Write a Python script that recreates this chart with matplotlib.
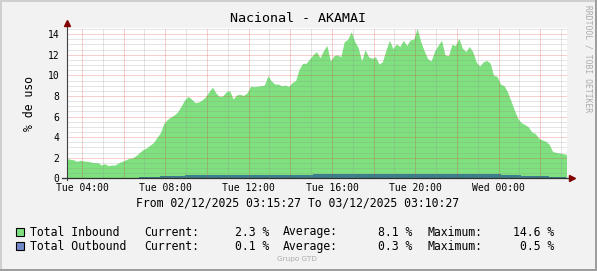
import matplotlib
matplotlib.use("Agg")
import matplotlib.pyplot as plt
from matplotlib.ticker import MultipleLocator, FuncFormatter
from matplotlib.patches import Rectangle
import numpy as np

plt.rcParams["font.family"] = "DejaVu Sans Mono"

# valores (muestras cada 10 min desde 02/12 03:15:27)
inbound = [
    1.94, 1.85, 1.80, 1.65, 1.75, 1.68, 1.65, 1.58, 1.52, 1.52,
    1.29, 1.42, 1.23, 1.29, 1.29, 1.50, 1.65, 1.78, 1.94, 1.98,
    2.20, 2.50, 2.77, 2.95, 3.20, 3.45, 3.95, 4.40, 5.30, 5.70,
    5.95, 6.15, 6.45, 7.00, 7.60, 7.96, 7.70, 7.35, 7.40, 7.60,
    7.90, 8.40, 8.85, 8.30, 7.95, 8.00, 8.40, 8.50, 7.70, 8.10,
    8.15, 8.05, 8.30, 8.95, 8.90, 8.95, 9.00, 9.06, 9.97, 9.45,
    9.15, 9.15, 8.98, 9.05, 8.92, 9.30, 9.50, 10.60, 11.17, 11.17,
    11.60, 12.00, 12.30, 11.70, 12.40, 12.90, 11.40, 11.90, 12.00, 11.80,
    13.27, 13.50, 14.24, 13.30, 12.70, 11.40, 12.50, 11.80, 11.65, 11.80,
    11.10, 11.33, 12.46, 13.40, 12.60, 13.05, 12.80, 13.40, 12.90, 13.45,
    13.50, 14.56, 13.30, 12.40, 11.62, 11.40, 12.35, 12.90, 13.40, 12.00,
    11.90, 13.00, 12.90, 13.60, 12.65, 12.30, 12.80, 12.30, 11.30, 10.90,
    11.30, 11.45, 11.20, 10.00, 9.90, 9.15, 9.00, 8.40, 7.50, 6.60,
    5.80, 5.40, 5.22, 5.00, 4.50, 4.35, 3.90, 3.72, 3.60, 3.30,
    2.60, 2.52, 2.45, 2.40, 2.30,
]
outbound = [
    0, 0, 0, 0, 0, 0, 0, 0, 0, 0,
    0, 0, 0, 0, 0, 0, 0, 0, 0, 0,
    0, 0.12, 0.12, 0.12, 0.12, 0.12, 0.12, 0.22, 0.22, 0.22,
    0.22, 0.22, 0.22, 0.22, 0.32, 0.32, 0.32, 0.32, 0.32, 0.32,
    0.32, 0.32, 0.32, 0.32, 0.32, 0.32, 0.32, 0.32, 0.32, 0.32,
    0.32, 0.32, 0.32, 0.32, 0.32, 0.32, 0.32, 0.32, 0.32, 0.32,
    0.32, 0.32, 0.32, 0.32, 0.32, 0.32, 0.32, 0.32, 0.32, 0.32,
    0.32, 0.42, 0.42, 0.42, 0.42, 0.42, 0.40, 0.42, 0.42, 0.42,
    0.42, 0.42, 0.42, 0.42, 0.40, 0.42, 0.42, 0.42, 0.38, 0.42,
    0.42, 0.42, 0.42, 0.42, 0.40, 0.42, 0.42, 0.42, 0.42, 0.42,
    0.42, 0.42, 0.42, 0.38, 0.42, 0.42, 0.42, 0.42, 0.42, 0.42,
    0.42, 0.42, 0.42, 0.42, 0.40, 0.40, 0.40, 0.40, 0.40, 0.40,
    0.40, 0.40, 0.40, 0.40, 0.40, 0.30, 0.30, 0.30, 0.30, 0.30,
    0.30, 0.18, 0.18, 0.18, 0.18, 0.18, 0.18, 0.18, 0.18, 0.08,
    0.08, 0.08, 0.08, 0.08, 0.08,
]
series_names = ["Total Inbound", "Total Outbound"]
current = [2.3, 0.1]
average = [8.1, 0.3]
maximum = [14.6, 0.5]

START = 3 + 15 / 60 + 27 / 3600  # hora de inicio
STEP = 10 / 60

GREEN = "#7EE07E"
TEAL = "#3B7F8A"
BLUE = "#7289C9"

W, H = 597, 271
fig = plt.figure(figsize=(W / 100, H / 100), dpi=100, facecolor="#F2F2F2")

# marco 3D estilo rrdtool
fig.add_artist(Rectangle((0, 1 - 2 / H), 1, 2 / H, transform=fig.transFigure, color="#CFCFCF", lw=0))
fig.add_artist(Rectangle((0, 0), 2 / W, 1, transform=fig.transFigure, color="#CFCFCF", lw=0))
fig.add_artist(Rectangle((0, 0), 1, 2 / H, transform=fig.transFigure, color="#9E9E9E", lw=0))
fig.add_artist(Rectangle((1 - 2 / W, 0), 2 / W, 1, transform=fig.transFigure, color="#9E9E9E", lw=0))

ax = fig.add_axes([66.5 / W, 1 - 178.3 / H, 500 / W, (178.3 - 28) / H])
ax.set_facecolor("white")

times = START + np.arange(len(inbound)) * STEP
ax.fill_between(times, inbound, color=GREEN, lw=0, zorder=1)
ax.fill_between(times, outbound, color=TEAL, lw=0, step="post", zorder=1.5)

ax.set_xlim(START, START + 24)
ax.set_ylim(0, 14.6)


def hour_label(v, pos):
    if round(v) % 4 != 0:
        return ""
    day = "Tue" if v < 24 else "Wed"
    return f"{day} {int(round(v)) % 24:02d}:00"


ax.xaxis.set_major_locator(MultipleLocator(2))
ax.xaxis.set_minor_locator(MultipleLocator(1))
ax.xaxis.set_major_formatter(FuncFormatter(hour_label))
ax.yaxis.set_major_locator(MultipleLocator(2))
ax.yaxis.set_minor_locator(MultipleLocator(0.5))
ax.yaxis.set_major_formatter(FuncFormatter(lambda v, p: f"{v:.0f}"))

ax.set_axisbelow(False)
ax.grid(which="major", color="#DE3030", alpha=0.45, lw=0.72, ls=(0, (1, 1)))
ax.grid(which="minor", color="#8F8F8F", alpha=0.45, lw=0.72, ls=(0, (1, 1)))
ax.tick_params(which="both", length=0, labelsize=7)
ax.tick_params(axis="y", pad=5.2)
ax.tick_params(axis="x", pad=3.5)
for s in ax.spines.values():
    s.set_visible(False)

# ejes con flechas
ax.plot([0, 0], [-0.01, 1.035], transform=ax.transAxes, color="#404040", lw=0.8, clip_on=False, zorder=4)
ax.plot([-0.01, 1.01], [0, 0], transform=ax.transAxes, color="#303030", lw=0.9, clip_on=False, zorder=4)
ax.plot(0, 1.035, marker="^", ms=4, color="#800000", transform=ax.transAxes, clip_on=False, zorder=5)
ax.plot(1.011, 0, marker=">", ms=4, color="#800000", transform=ax.transAxes, clip_on=False, zorder=5)

ax.set_ylabel("% de uso", fontsize=8.3, labelpad=8)

fig.text(298 / W, 1 - 19 / H, "Nacional - AKAMAI", fontsize=9.6, ha="center", va="center")
fig.text(298 / W, 1 - 203.5 / H, "From 02/12/2025 03:15:27 To 03/12/2025 03:10:27",
         fontsize=8.3, ha="center", va="center")
fig.text(588 / W, 1 - 59 / H, "RRDTOOL / TOBI OETIKER", fontsize=5.8, rotation=270,
         ha="center", va="center", color="#ABABAB")
fig.text(297 / W, 1 - 259.5 / H, "Grupo GTD", fontsize=5.2, family="DejaVu Sans",
         ha="center", va="center", color="#ABABAB")

# leyenda
for i, name in enumerate(series_names):
    yc = 231.7 + i * 14.3
    fig.add_artist(Rectangle((15.5 / W, 1 - (yc + 4) / H), 8 / W, 8 / H, transform=fig.transFigure,
                             facecolor=[GREEN, BLUE][i], edgecolor="black", lw=0.8))
    yb = 1 - (yc + 3.8) / H
    kw = dict(fontsize=8.3, va="baseline")
    fig.text(30.5 / W, yb, name, **kw)
    fig.text(144 / W, yb, "Current:", **kw)
    fig.text(269 / W, yb, f"{current[i]:.1f} %", ha="right", **kw)
    fig.text(283 / W, yb, "Average:", **kw)
    fig.text(412 / W, yb, f"{average[i]:.1f} %", ha="right", **kw)
    fig.text(427.5 / W, yb, "Maximum:", **kw)
    fig.text(554 / W, yb, f"{maximum[i]:.1f} %", ha="right", **kw)

fig.savefig("out.png", dpi=100, facecolor=fig.get_facecolor())
